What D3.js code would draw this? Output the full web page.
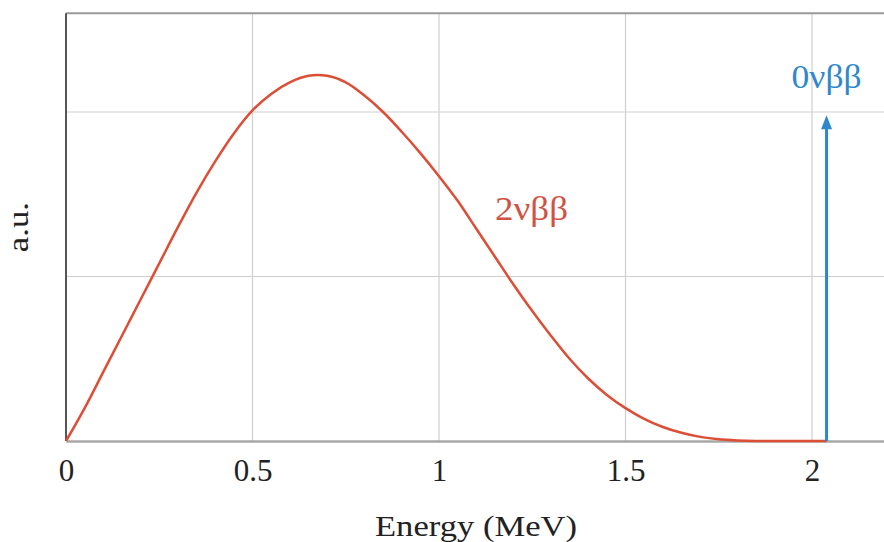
<!DOCTYPE html>
<html>
<head>
<meta charset="utf-8">
<script src="https://cdn.jsdelivr.net/npm/d3@7"></script>
<style>
  body { margin: 0; background: #fff; }
  text { font-family: "Liberation Serif", "DejaVu Serif", serif; }
</style>
</head>
<body>
<svg id="chart" width="884" height="542"></svg>
<script>
// 2νββ spectrum (energy in MeV, arbitrary units)
const energy = [0, 0.05, 0.1, 0.15, 0.2, 0.25, 0.3, 0.35, 0.4, 0.45, 0.5, 0.55, 0.6, 0.65, 0.7,
                0.75, 0.8, 0.85, 0.9, 0.95, 1.0, 1.05, 1.1, 1.15, 1.2, 1.25, 1.3, 1.35, 1.4,
                1.45, 1.5, 1.55, 1.6, 1.65, 1.7, 1.75, 1.8, 1.85, 1.9, 2.0, 2.039];
const counts = [0, 0.20, 0.42, 0.64, 0.86, 1.08, 1.30, 1.51, 1.70, 1.87, 2.01, 2.11, 2.18, 2.22, 2.22,
                2.18, 2.10, 2.00, 1.88, 1.75, 1.61, 1.46, 1.29, 1.12, 0.95, 0.79, 0.64, 0.50, 0.38,
                0.28, 0.20, 0.135, 0.085, 0.05, 0.025, 0.01, 0.003, 0, 0, 0, 0];
const xTicks = [0, 0.5, 1, 1.5, 2];
const yGrid = [1, 2];
const qValue = 2.039;     // 0νββ peak position
const peakHeight = 1.98;

const svg = d3.select("#chart");
const left = 66, bottom = 441;

const x = d3.scaleLinear().domain([0, 2.2]).range([left, left + 2.2 * 373]);
const y = d3.scaleLinear().domain([0, 2.6]).range([bottom, bottom - 2.6 * 164.5]);

const red = "#dc4e35", blue = "#2f88cc";

// grid
svg.append("g").selectAll("line")
    .data(xTicks.filter(d => d > 0))
    .join("line")
    .attr("x1", d => x(d)).attr("x2", d => x(d))
    .attr("y1", y(0)).attr("y2", y(2.6))
    .style("stroke", "#cfcfcf").style("stroke-width", 1.2);

svg.append("g").selectAll("line")
    .data(yGrid)
    .join("line")
    .attr("x1", x(0)).attr("x2", x(2.2))
    .attr("y1", d => y(d)).attr("y2", d => y(d))
    .style("stroke", "#cfcfcf").style("stroke-width", 1.2);

// frame: top border
svg.append("line")
    .attr("x1", x(0)).attr("x2", x(2.2))
    .attr("y1", y(2.6)).attr("y2", y(2.6))
    .style("stroke", "#9a9a9a").style("stroke-width", 2);

// bottom axis
const xAxis = svg.append("g")
    .attr("transform", `translate(0,${bottom})`)
    .call(d3.axisBottom(x).tickValues(xTicks).tickSize(0).tickPadding(19).tickFormat(d => String(d)));
xAxis.select(".domain").style("stroke", "#a8a8a8").style("stroke-width", 2.5);
xAxis.selectAll("text")
    .style("font-size", "31px")
    .style("fill", "#222")
    .attr("dy", "0.68em");

// left axis
svg.append("line")
    .attr("x1", left).attr("x2", left)
    .attr("y1", y(0)).attr("y2", y(2.6))
    .style("stroke", "#555").style("stroke-width", 2);

// 2νββ curve
const line = d3.line()
    .x((d, i) => x(energy[i]))
    .y(d => y(d))
    .curve(d3.curveCatmullRom.alpha(0.5));

svg.append("path")
    .datum(counts)
    .attr("d", line)
    .style("fill", "none")
    .style("stroke", red)
    .style("stroke-width", 2.5);

// 0νββ arrow
svg.append("line")
    .attr("x1", x(qValue)).attr("x2", x(qValue))
    .attr("y1", y(0)).attr("y2", y(peakHeight) + 12)
    .style("stroke", blue).style("stroke-width", 3);

svg.append("path")
    .attr("d", `M${x(qValue)},${y(peakHeight)} l-5.5,14 l11,0 z`)
    .style("fill", blue);

// labels
svg.append("text")
    .attr("x", 495).attr("y", 220)
    .attr("textLength", 73).attr("lengthAdjust", "spacingAndGlyphs")
    .style("font-size", "33px")
    .style("fill", "#cf5445")
    .text("2νββ");

svg.append("text")
    .attr("x", x(qValue)).attr("y", 88)
    .attr("text-anchor", "middle")
    .attr("textLength", 70).attr("lengthAdjust", "spacingAndGlyphs")
    .style("font-size", "33px")
    .style("fill", blue)
    .text("0νββ");

svg.append("text")
    .attr("x", 476).attr("y", 536)
    .attr("text-anchor", "middle")
    .attr("textLength", 202).attr("lengthAdjust", "spacingAndGlyphs")
    .style("font-size", "30px")
    .style("fill", "#222")
    .text("Energy (MeV)");

svg.append("text")
    .attr("transform", `translate(28,${(y(0) + y(2.6)) / 2}) rotate(-90)`)
    .attr("text-anchor", "middle")
    .attr("textLength", 50).attr("lengthAdjust", "spacingAndGlyphs")
    .style("font-size", "29px")
    .style("fill", "#222")
    .text("a.u.");
</script>
</body>
</html>
